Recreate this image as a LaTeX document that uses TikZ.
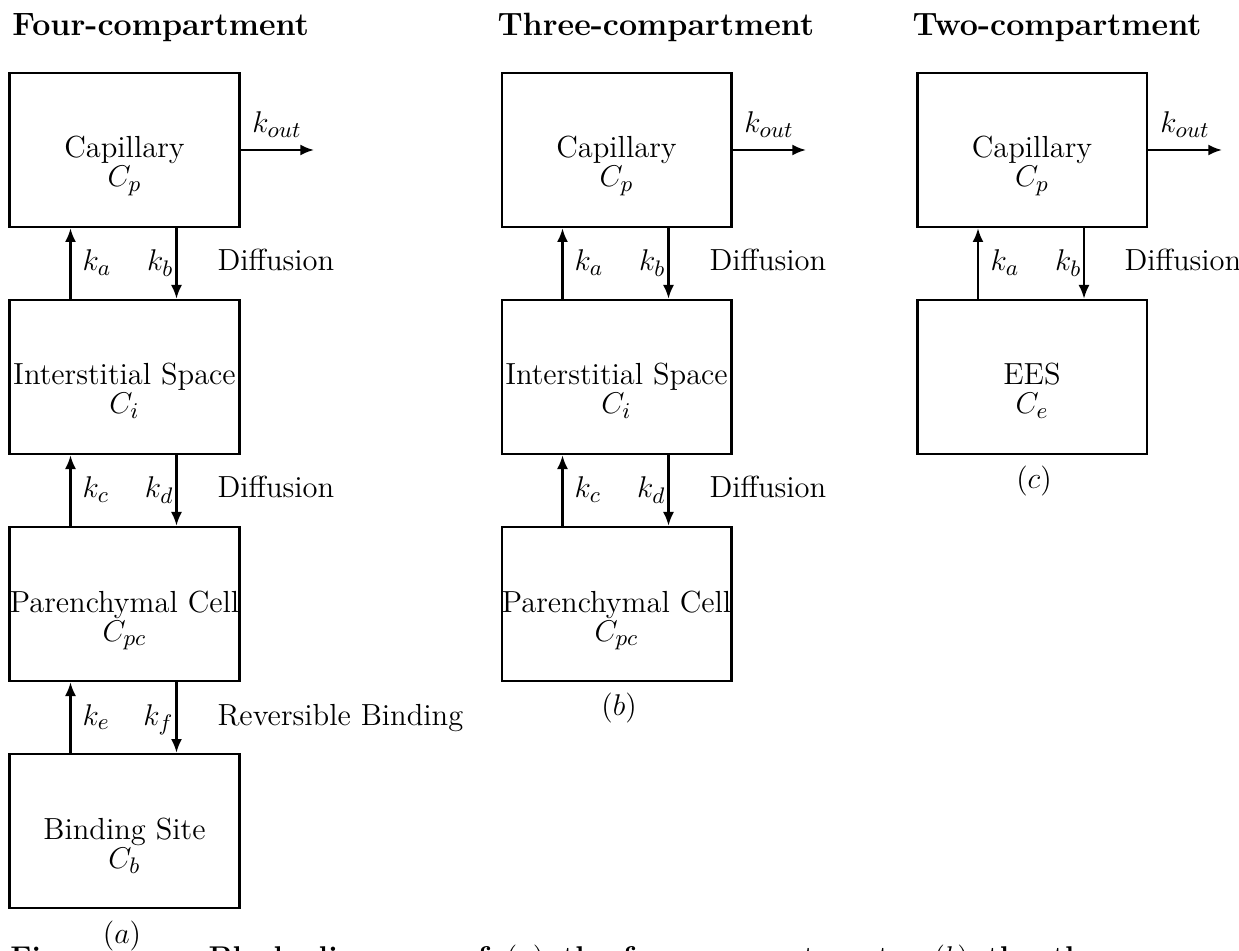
\documentclass[tikz,border=0pt]{standalone}
\usetikzlibrary{arrows.meta}
\begin{document}
\begin{tikzpicture}[x=0.4pt,y=-0.4pt,
  box/.style={draw,line width=1pt,minimum width=91.8pt,minimum height=61.6pt,inner sep=0pt},
  flow/.style={line width=0.9pt,-{Latex[length=5.5pt,width=4.4pt]}},
  txt/.style={font=\fontsize{12.2}{14}\selectfont,inner sep=0pt},
  head/.style={font=\fontsize{12.9}{15}\selectfont\bfseries,inner sep=0pt,anchor=base west},
  captxt/.style={font=\fontsize{12}{14}\selectfont\bfseries,inner sep=0pt,anchor=base west},
]
\useasboundingbox (0,0) rectangle (1239,951);
\fill[white] (0,0) rectangle (1239,951);
\clip (0,0) rectangle (1239,951);

% column headings
\node[head] (h1) at (12,36) {Four-compartment};
\node[head] (h2) at (497,36) {Three-compartment};
\node[head] (h3) at (912,36) {Two-compartment};

% ---------- four-compartment model ----------
\node[box] (a1) at (124.5,150) {};
\node[box] (a2) at (124.5,377) {};
\node[box] (a3) at (124.5,604) {};
\node[box] (a4) at (124.5,831) {};
\node[txt,anchor=base] (a1n) at (124.5,158) {Capillary};
\node[txt,anchor=base] (a1s) at (124.5,187) {$C_p$};
\node[txt,anchor=base] (a2n) at (124.5,385) {Interstitial Space};
\node[txt,anchor=base] (a2s) at (124.5,414) {$C_i$};
\node[txt,anchor=base] (a3n) at (124.5,612) {Parenchymal Cell};
\node[txt,anchor=base] (a3s) at (124.5,641) {$C_{pc}$};
\node[txt,anchor=base] (a4n) at (124.5,839) {Binding Site};
\node[txt,anchor=base] (a4s) at (124.5,868) {$C_b$};

\coordinate (ao) at (314,150);
\draw[flow] (a1.east) -- (ao);
\node[txt,anchor=base] (ako) at (277,133) {$k_{out}$};

\draw[flow] ([xshift=24.8pt]a2.north west) -- ([xshift=24.8pt]a1.south west);
\draw[flow] ([xshift=67.2pt]a1.south west) -- ([xshift=67.2pt]a2.north west);
\draw[flow] ([xshift=24.8pt]a3.north west) -- ([xshift=24.8pt]a2.south west);
\draw[flow] ([xshift=67.2pt]a2.south west) -- ([xshift=67.2pt]a3.north west);
\draw[flow] ([xshift=24.8pt]a4.north west) -- ([xshift=24.8pt]a3.south west);
\draw[flow] ([xshift=67.2pt]a3.south west) -- ([xshift=67.2pt]a4.north west);

\node[txt,anchor=base west] (aka) at (82,271) {$k_a$};
\node[txt,anchor=base east] (akb) at (174,271) {$k_b$};
\node[txt,anchor=base west] (ad1) at (217,271) {Diffusion};
\node[txt,anchor=base west] (akc) at (82,498) {$k_c$};
\node[txt,anchor=base east] (akd) at (174,498) {$k_d$};
\node[txt,anchor=base west] (ad2) at (217,498) {Diffusion};
\node[txt,anchor=base west] (ake) at (82,725) {$k_e$};
\node[txt,anchor=base east] (akf) at (174,725) {$k_f$};
\node[txt,anchor=base west] (ad3) at (217,725) {Reversible Binding};
\node[txt] (alab) at (122,936) {$(a)$};

% ---------- three-compartment model ----------
\node[box] (b1) at (616.5,150) {};
\node[box] (b2) at (616.5,377) {};
\node[box] (b3) at (616.5,604) {};
\node[txt,anchor=base] (b1n) at (616.5,158) {Capillary};
\node[txt,anchor=base] (b1s) at (616.5,187) {$C_p$};
\node[txt,anchor=base] (b2n) at (616.5,385) {Interstitial Space};
\node[txt,anchor=base] (b2s) at (616.5,414) {$C_i$};
\node[txt,anchor=base] (b3n) at (616.5,612) {Parenchymal Cell};
\node[txt,anchor=base] (b3s) at (616.5,641) {$C_{pc}$};

\coordinate (bo) at (806,150);
\draw[flow] (b1.east) -- (bo);
\node[txt,anchor=base] (bko) at (769,133) {$k_{out}$};

\draw[flow] ([xshift=24.8pt]b2.north west) -- ([xshift=24.8pt]b1.south west);
\draw[flow] ([xshift=67.2pt]b1.south west) -- ([xshift=67.2pt]b2.north west);
\draw[flow] ([xshift=24.8pt]b3.north west) -- ([xshift=24.8pt]b2.south west);
\draw[flow] ([xshift=67.2pt]b2.south west) -- ([xshift=67.2pt]b3.north west);

\node[txt,anchor=base west] (bka) at (574,271) {$k_a$};
\node[txt,anchor=base east] (bkb) at (666,271) {$k_b$};
\node[txt,anchor=base west] (bd1) at (709,271) {Diffusion};
\node[txt,anchor=base west] (bkc) at (574,498) {$k_c$};
\node[txt,anchor=base east] (bkd) at (666,498) {$k_d$};
\node[txt,anchor=base west] (bd2) at (709,498) {Diffusion};
\node[txt] (blab) at (619,708) {$(b)$};

% ---------- two-compartment model ----------
\node[box] (c1) at (1032,150) {};
\node[box] (c2) at (1032,377) {};
\node[txt,anchor=base] (c1n) at (1032,158) {Capillary};
\node[txt,anchor=base] (c1s) at (1032,187) {$C_p$};
\node[txt,anchor=base] (c2n) at (1032,385) {EES};
\node[txt,anchor=base] (c2s) at (1032,414) {$C_e$};

\coordinate (co) at (1222,150);
\draw[flow] (c1.east) -- (co);
\node[txt,anchor=base] (cko) at (1185,133) {$k_{out}$};

\draw[flow] ([xshift=24.8pt]c2.north west) -- ([xshift=24.8pt]c1.south west);
\draw[flow] ([xshift=67.2pt]c1.south west) -- ([xshift=67.2pt]c2.north west);

\node[txt,anchor=base west] (cka) at (990,271) {$k_a$};
\node[txt,anchor=base east] (ckb) at (1082,271) {$k_b$};
\node[txt,anchor=base west] (cd1) at (1124,271) {Diffusion};
\node[txt] (clab) at (1034,481) {$(c)$};

% caption line (justified), cut by the page edge
\node[captxt] (fig) at (10,967) {Figure};
\node[captxt] (cap1) at (208,967) {\spaceskip=7.2pt Block diagrams of $(a)$ the};
\node[captxt] (cap2) at (622,967) {four-compartment,};
\node[captxt] (cap3) at (933,967) {\spaceskip=7.2pt $(b)$ the three-compartment};
\end{tikzpicture}
\end{document}
